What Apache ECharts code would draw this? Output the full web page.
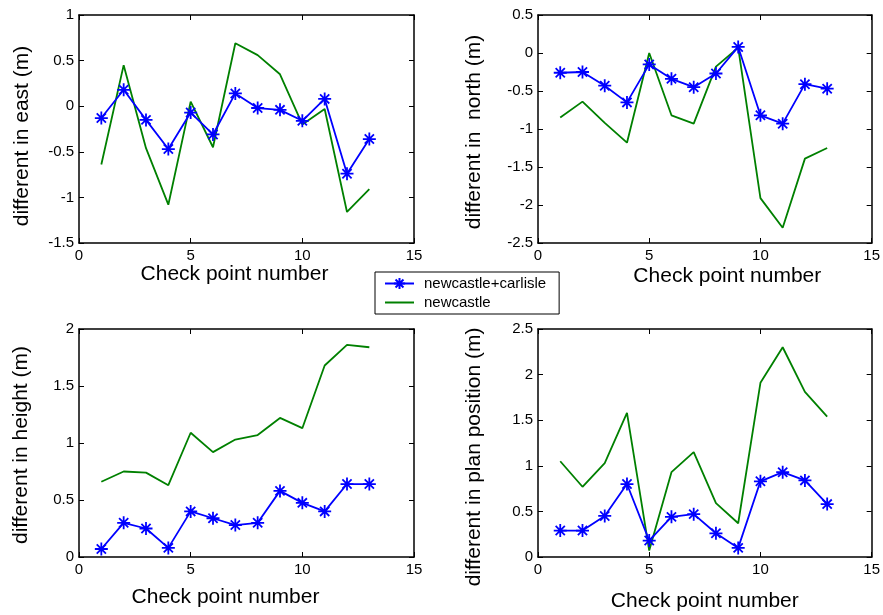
<!DOCTYPE html>
<html>
<head>
<meta charset="utf-8">
<script src="https://cdn.jsdelivr.net/npm/echarts@6/dist/echarts.min.js"></script>
<style>
html,body{margin:0;padding:0;background:#fff;}
#chart{width:883px;height:615px;}
</style>
</head>
<body>
<div id="chart"></div>
<script>
const checkPoints = [1, 2, 3, 4, 5, 6, 7, 8, 9, 10, 11, 12, 13];
const seriesNames = ['newcastle+carlisle', 'newcastle'];

const eastCombined  = [-0.13, 0.18, -0.15, -0.47, -0.07, -0.31, 0.14, -0.02, -0.04, -0.16, 0.08, -0.74, -0.36];
const eastNewcastle = [-0.64, 0.45, -0.46, -1.08, 0.05, -0.45, 0.69, 0.56, 0.35, -0.20, -0.03, -1.16, -0.91];

const northCombined  = [-0.26, -0.25, -0.43, -0.65, -0.15, -0.34, -0.45, -0.27, 0.08, -0.82, -0.93, -0.41, -0.47];
const northNewcastle = [-0.85, -0.64, -0.92, -1.18, 0.00, -0.82, -0.93, -0.18, 0.07, -1.91, -2.30, -1.39, -1.25];

const heightCombined  = [0.07, 0.30, 0.25, 0.08, 0.40, 0.34, 0.28, 0.30, 0.58, 0.475, 0.40, 0.64, 0.64];
const heightNewcastle = [0.66, 0.75, 0.74, 0.63, 1.09, 0.92, 1.03, 1.07, 1.22, 1.13, 1.68, 1.86, 1.84];

const planCombined  = [0.29, 0.29, 0.45, 0.80, 0.18, 0.44, 0.47, 0.26, 0.10, 0.83, 0.93, 0.84, 0.58];
const planNewcastle = [1.05, 0.77, 1.03, 1.58, 0.07, 0.93, 1.15, 0.59, 0.37, 1.91, 2.30, 1.81, 1.54];

const xTitle = 'Check point number';
const yTitles = ['different in east (m)', 'different in  north (m)', 'different in height (m)', 'different in plan position (m)'];
const yRanges = [[-1.5, 1], [-2.5, 0.5], [0, 2], [0, 2.5]];
const xRange = [0, 15];

const panels = [
  {combined: eastCombined, single: eastNewcastle},
  {combined: northCombined, single: northNewcastle},
  {combined: heightCombined, single: heightNewcastle},
  {combined: planCombined, single: planNewcastle}
];

const FONT = '"Liberation Sans", Arial, sans-serif';
const gridPos = [
  {left: 79, top: 15, width: 335, height: 228},
  {left: 538, top: 15, width: 335, height: 228},
  {left: 79, top: 329, width: 335, height: 228},
  {left: 538, top: 329, width: 335, height: 228}
];
const xNameGap = [20, 23, 30, 34];
const xNamePad = [[0, 24, 0, 0], [0, 0, 0, 45], [0, 42, 0, 0], [0, 0, 0, 0]];
const yNameGap = [46, 53, 47, 53];
const yNamePad = [[0, 14, 0, 0], [0, 6, 0, 0], [0, 4, 0, 0], [0, 28, 0, 0]];

const asterisk = 'path://M0,5L10,5M5,0L5,10M1.46,1.46L8.54,8.54M8.54,1.46L1.46,8.54';

const axisLine = {show: true, onZero: false, lineStyle: {color: '#000', width: 1.5}};
const axisTick = {show: true, inside: true, length: 5, lineStyle: {color: '#000', width: 1}};

const xAxes = [], yAxes = [], series = [];
panels.forEach((p, i) => {
  xAxes.push({
    type: 'value', gridIndex: i, min: xRange[0], max: xRange[1], interval: 5, position: 'bottom',
    axisLine, axisTick, splitLine: {show: false},
    axisLabel: {color: '#000', fontSize: 15, fontFamily: FONT, margin: 5},
    name: xTitle, nameLocation: 'middle', nameGap: xNameGap[i],
    nameTextStyle: {color: '#000', fontSize: 21, fontFamily: FONT, padding: xNamePad[i]}
  });
  xAxes.push({
    type: 'value', gridIndex: i, min: xRange[0], max: xRange[1], interval: 5, position: 'top',
    axisLine, axisTick, splitLine: {show: false}, axisLabel: {show: false}
  });
  yAxes.push({
    type: 'value', gridIndex: i, min: yRanges[i][0], max: yRanges[i][1], interval: 0.5, position: 'left',
    axisLine, axisTick, splitLine: {show: false},
    axisLabel: {color: '#000', fontSize: 15, fontFamily: FONT, margin: 5},
    name: yTitles[i], nameLocation: 'middle', nameGap: yNameGap[i],
    nameTextStyle: {color: '#000', fontSize: 21, fontFamily: FONT, padding: yNamePad[i]}
  });
  yAxes.push({
    type: 'value', gridIndex: i, min: yRanges[i][0], max: yRanges[i][1], interval: 0.5, position: 'right',
    axisLine, axisTick, splitLine: {show: false}, axisLabel: {show: false}
  });
  series.push({
    name: seriesNames[1], type: 'line', xAxisIndex: 2 * i, yAxisIndex: 2 * i,
    data: checkPoints.map((c, k) => [c, p.single[k]]),
    symbol: 'none', lineStyle: {color: '#008000', width: 1.8}, itemStyle: {color: '#008000'},
    z: 2
  });
  series.push({
    name: seriesNames[0], type: 'line', xAxisIndex: 2 * i, yAxisIndex: 2 * i,
    data: checkPoints.map((c, k) => [c, p.combined[k]]),
    symbol: asterisk, symbolSize: 13,
    lineStyle: {color: '#0000ff', width: 1.8},
    itemStyle: {color: '#0000ff', borderColor: '#0000ff', borderWidth: 1.8},
    z: 3
  });
});

const chart = echarts.init(document.getElementById('chart'), null, {renderer: 'canvas'});
chart.setOption({
  backgroundColor: '#fff',
  animation: false,
  grid: gridPos.map(g => Object.assign({containLabel: false}, g)),
  xAxis: xAxes,
  yAxis: yAxes,
  legend: {
    data: [
      {name: seriesNames[0]},
      {name: seriesNames[1], itemStyle: {opacity: 0, borderWidth: 0}}
    ],
    orient: 'vertical',
    left: 375, top: 272,
    padding: [4, 13, 4, 9],
    itemGap: 4, itemWidth: 29, itemHeight: 14,
    borderColor: '#000', borderWidth: 1,
    textStyle: {color: '#000', fontSize: 15, fontFamily: FONT, padding: [0, 0, 0, 5]}
  },
  series: series
});
</script>
</body>
</html>
